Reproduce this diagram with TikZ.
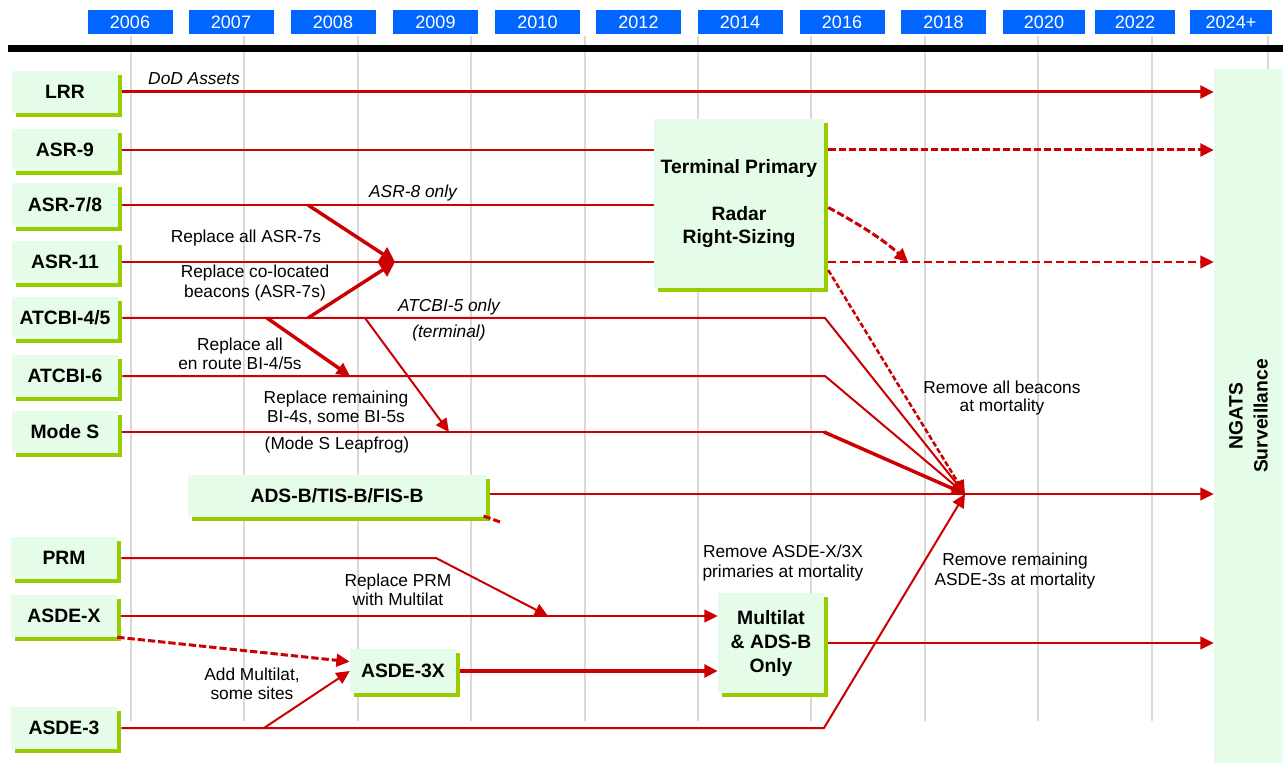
\documentclass[tikz,border=0pt]{standalone}
\usepackage{fontspec}
\setmainfont{Liberation Sans}
\usetikzlibrary{arrows.meta,shadows,calc}
\definecolor{lineRed}{HTML}{CC0000}
\definecolor{boxFill}{HTML}{E5FCE8}
\definecolor{shadowGreen}{HTML}{99CC00}
\definecolor{yearBlue}{HTML}{0066FF}
\definecolor{gridGrey}{HTML}{D9D9D9}
\begin{document}
\begin{tikzpicture}[x=0.75pt,y=-0.75pt,
  greenbox/.style={fill=boxFill, draw=none, inner sep=0pt, align=center,
    font=\fontsize{14.5}{18}\selectfont\bfseries,
    drop shadow={shadow xshift=3pt, shadow yshift=-3pt, fill=shadowGreen, opacity=1}},
  leftbox/.style={greenbox, minimum width=79.5pt, minimum height=31.5pt},
  yearbox/.style={fill=yearBlue, draw=none, text=white, inner sep=0pt,
    minimum height=18pt, font=\fontsize{13.5}{16}\selectfont},
  gridline/.style={draw=gridGrey, line width=1.5pt},
  lbl/.style={align=center, inner sep=0pt, font=\fontsize{13}{14}\selectfont},
  ilbl/.style={lbl, font=\fontsize{13}{14}\selectfont\itshape},
  ln/.style={draw=lineRed, line width=1.5pt},
  lnthick/.style={draw=lineRed, line width=2.6pt},
  arr/.style={-{Triangle[length=10pt,width=9.5pt]}},
  bigarr/.style={-{Triangle[length=11pt,width=11.5pt]}},
  dashA/.style={draw=lineRed, line width=2.25pt, dash pattern=on 5.5pt off 2.2pt},
  dashB/.style={draw=lineRed, line width=1.6pt, dash pattern=on 6pt off 3pt},
  dashC/.style={draw=lineRed, line width=1.9pt, dash pattern=on 4pt off 1.8pt},
]
\useasboundingbox (0,0) rectangle (1283,763);
\fill[white] (0,0) rectangle (1283,763);

% grid
\foreach \gx in {131,244.4,357.8,471.2,584.6,698,811.4,924.8,1038.2,1151.6,1268}
  \draw[gridline] (\gx,36) -- (\gx,721);

% black bar
\fill[black] (8,45) rectangle (1283,52.5);

% year boxes
\foreach \cx/\w/\yr [count=\i] in {130/85/2006,231/85/2007,333/85/2008,435.5/85/2009,537.5/85/2010,638.5/85/2012,740/85/2014,842/85/2016,943.5/85/2018,1044/82/2020,1135/80/2022,1231/82/2024+}
  \node[yearbox, minimum width=\w*0.75pt] (yr\i) at (\cx,22) {\yr};

% NGATS box
\node[fill=boxFill, draw=none, rotate=90, minimum width=520.5pt, minimum height=51.75pt,
  inner sep=0pt, align=center, font=\fontsize{14.5}{18.75}\selectfont\bfseries]
  (NGATS) at (1248.5,416) {NGATS\\Surveillance};

% left boxes
\node[leftbox] (LRR) at (65,92) {LRR};
\node[leftbox] (ASR9) at (65,150) {ASR-9};
\node[leftbox, minimum height=33pt] (ASR78) at (65,205) {ASR-7/8};
\node[leftbox] (ASR11) at (65,262) {ASR-11};
\node[leftbox] (ATCBI45) at (65,318) {ATCBI-4/5};
\node[leftbox] (ATCBI6) at (65,376) {ATCBI-6};
\node[leftbox] (MODES) at (65,432) {Mode S};
\node[leftbox] (PRM) at (64,558) {PRM};
\node[leftbox] (ASDEX) at (64,616) {ASDE-X};
\node[leftbox] (ASDE3) at (64,728) {ASDE-3};

% other boxes
\node[greenbox, minimum width=223.5pt, minimum height=31.5pt] (ADSB) at (337,496) {ADS-B/TIS-B/FIS-B};
\node[greenbox, minimum width=127.5pt, minimum height=126.75pt, font=\fontsize{14.5}{17.6}\selectfont\bfseries]
  (TRS) at (739,203.5) {Terminal Primary\\[17.6pt]Radar\\Right-Sizing};
\node[greenbox, minimum width=79.5pt, minimum height=33pt] (A3X) at (403,671) {ASDE-3X};
\node[greenbox, minimum width=79.5pt, minimum height=75pt] (ML) at (771,643) {Multilat\\\& ADS-B\\Only};

% labels
\node[ilbl] (lDoD) at (194,79) {DoD Assets};
\node[ilbl] (lASR8) at (413,193) {ASR-8 only};
\node[lbl] (lRepASR7) at (246,238) {Replace all ASR-7s};
\node[lbl, font=\fontsize{13}{15}\selectfont] (lColoc) at (255,283) {Replace co-located\\beacons (ASR-7s)};
\node[ilbl] (lATCBI5) at (449,307) {ATCBI-5 only};
\node[ilbl] (lTerm) at (449,333) {(terminal)};
\node[lbl] (lEnroute) at (240,354) {Replace all\\en route BI-4/5s};
\node[lbl] (lRemain) at (336,408) {Replace remaining\\BI-4s, some BI-5s};
\node[lbl] (lLeap) at (337,445) {(Mode S Leapfrog)};
\node[lbl] (lBeacons) at (1002,398) {Remove all beacons\\at mortality};
\node[lbl, font=\fontsize{13}{15}\selectfont] (lPrim) at (783,563) {Remove ASDE-X/3X\\primaries at mortality};
\node[lbl, font=\fontsize{13}{15}\selectfont] (lASDE3s) at (1015,571) {Remove remaining\\ASDE-3s at mortality};
\node[lbl] (lPRM) at (398,590) {Replace PRM\\with Multilat};
\node[lbl] (lAddML) at (252,684) {Add Multilat,\\some sites};

% coordinates
\coordinate (conv) at (965,494);
\coordinate (s78) at (308,205);
\coordinate (s45a) at (308,318);
\coordinate (t11) at (395,262);
\coordinate (s45b) at (267,318);
\coordinate (t6) at (350,376);
\coordinate (s45c) at (365,318);
\coordinate (tS) at (449,432);
\coordinate (b45) at (825,318);
\coordinate (b6) at (825,376);
\coordinate (bS) at (824,432);
\coordinate (bPRM) at (436,558);
\coordinate (tPRM) at (548,616);
\coordinate (b3) at (824,728);
\coordinate (s3) at (264,728);
\coordinate (tcurve) at (908,262);
\coordinate (adsStub) at (500,522);

% connectors
\draw[ln, line width=2.25pt, arr] ([xshift=3pt]LRR.east) -- (LRR.east -| NGATS.north);
\draw[ln] ([xshift=3pt]ASR9.east) -- (ASR9.east -| TRS.west);
\draw[ln] ([xshift=3pt]ASR78.east) -- (ASR78.east -| TRS.west);
\draw[ln] ([xshift=3pt]ASR11.east) -- (ASR11.east -| TRS.west);
\draw[ln, arr] ([xshift=3pt]ATCBI45.east) -- (b45) -- (conv);
\draw[ln, arr] ([xshift=3pt]ATCBI6.east) -- (b6) -- (conv);
\draw[ln] ([xshift=3pt]MODES.east) -- (bS);
\draw[lnthick, arr] (bS) -- (conv);
\draw[ln, arr] ([xshift=3pt]ADSB.east |- conv) -- (conv -| NGATS.north);

\draw[lnthick, bigarr] (s78) -- (t11);
\draw[lnthick, bigarr] (s45a) -- (t11);
\draw[lnthick, arr] (s45b) -- (t6);
\draw[ln, arr] (s45c) -- (tS);

\draw[dashA, arr] ([xshift=3pt]TRS.east |- ASR9.east) -- (ASR9.east -| NGATS.north);
\draw[dashB, arr] ([xshift=3pt]TRS.east |- ASR11.east) -- (ASR11.east -| NGATS.north);
\draw[dashA, arr] ([xshift=3pt,yshift=-3pt]TRS.east) .. controls (870,230) and (888,244) .. (tcurve);
\draw[dashC, arr] ([xshift=3pt,yshift=-50pt]TRS.east) -- (conv);
\draw[dashA] ([xshift=-2pt,yshift=-15pt]ADSB.east) -- (adsStub);

\draw[ln, arr] ([xshift=3pt]PRM.east) -- (bPRM) -- (tPRM);
\draw[ln, arr] ([xshift=3pt]ASDEX.east) -- (ASDEX.east -| ML.west);
\draw[dashA, arr] (ASDEX.south east) -- ([yshift=7pt]A3X.west);
\draw[ln, arr] (s3) -- (A3X.west);
\draw[ln, arr] ([xshift=3pt]ASDE3.east) -- (b3) -- (conv);
\draw[lnthick, arr] ([xshift=3pt]A3X.east) -- (A3X.east -| ML.west);
\draw[ln, arr] ([xshift=3pt]ML.east) -- (ML.east -| NGATS.north);
\end{tikzpicture}
\end{document}
